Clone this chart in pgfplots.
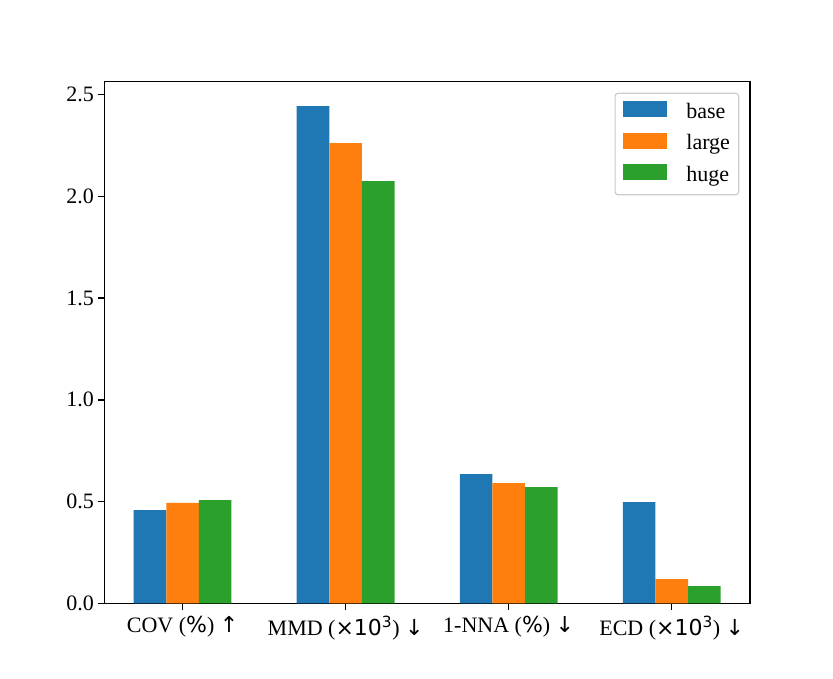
\documentclass[border=0pt]{standalone}
\usepackage{fontspec}
\setmainfont{Liberation Serif}
\newfontfamily\dv{DejaVu Sans}
\usepackage{pgfplots}
\pgfplotsset{compat=1.18}
\definecolor{c1}{HTML}{1F77B4}
\definecolor{c2}{HTML}{FF7F0E}
\definecolor{c3}{HTML}{2CA02C}
\begin{document}
\fontsize{22}{26}\selectfont
\begin{tikzpicture}
\path[use as bounding box] (0,0) rectangle (833pt,678pt);
\begin{axis}[
  at={(104.3pt,74.7pt)}, anchor=south west, scale only axis,
  width=645.7pt, height=522pt,
  xmin=-0.48, xmax=3.48, ymin=0, ymax=2.565,
  xtick={0,1,2,3},
  xticklabels={{COV ({\dv\%}) {\dv↑}},{MMD ({\dv×10\textsuperscript{3}}) {\dv↓}},{1-NNA ({\dv\%}) {\dv↓}},{ECD ({\dv×10\textsuperscript{3}}) {\dv↓}}},
  ytick={0,0.5,1,1.5,2,2.5},
  yticklabel style={xshift=3.5pt, /pgf/number format/.cd, fixed, fixed zerofill, precision=1},
  xticklabel style={yshift=1pt},
  /pgf/number format/assume math mode=true,
  ticklabel style={font=\fontsize{22}{26}\selectfont},
  tick align=outside, tick pos=left, major tick length=6.3pt,
  tick style={line width=1.44pt, black},
  axis line style={line width=1.44pt},
  legend style={at={(1,1)}, anchor=north east, xshift=-10.7pt, yshift=-11.4pt,
    draw=black!20, line width=1.2pt, rounded corners=3pt, fill=white,
    inner xsep=8.3pt, inner ysep=3.5pt, row sep=0pt,
    font=\fontsize{22}{26}\selectfont,
    nodes={inner sep=0pt, text width=44pt, align=left, yshift=5pt}},
  legend image code/.code={\fill[#1, sharp corners] (0pt,0pt) rectangle (44pt,16pt); \path[fill=none, draw=none] (0pt,-11pt) rectangle (63pt,20.5pt);},
]
\addplot[ybar, bar width=0.2, bar shift=-0.2, fill=c1, draw=none] coordinates {(0,0.458) (1,2.443) (2,0.635) (3,0.4975)};
\addplot[ybar, bar width=0.2, bar shift=0, fill=c2, draw=none] coordinates {(0,0.493) (1,2.261) (2,0.591) (3,0.119)};
\addplot[ybar, bar width=0.2, bar shift=0.2, fill=c3, draw=none] coordinates {(0,0.507) (1,2.075) (2,0.571) (3,0.085)};
\legend{base,large,huge}
\end{axis}
\end{tikzpicture}
\end{document}
